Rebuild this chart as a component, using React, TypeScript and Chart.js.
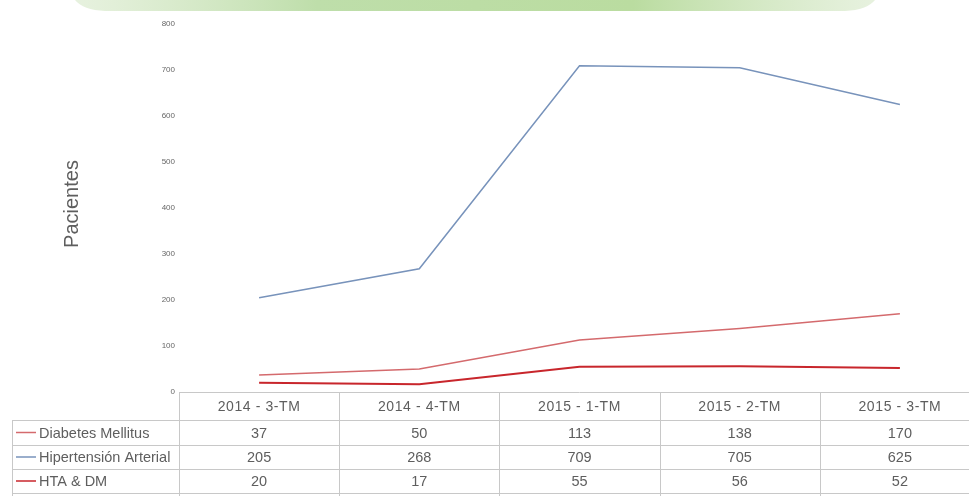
import React, { useEffect, useRef } from "react";
import { Chart, registerables } from "chart.js";

Chart.register(...registerables);

const categories = ["2014 - 3-TM", "2014 - 4-TM", "2015 - 1-TM", "2015 - 2-TM", "2015 - 3-TM"];
const diabetesMellitus = [37, 50, 113, 138, 170];
const hipertensionArterial = [205, 268, 709, 705, 625];
const htaDm = [20, 17, 55, 56, 52];
const seriesNames = ["Diabetes Mellitus", "Hipertensión Arterial", "HTA & DM"];
const seriesColors = ["#d46a6d", "#7893bb", "#c8262c"];
const yAxisTitle = "Pacientes";

const FONT = "'Liberation Sans', Arial, sans-serif";
const TEXT = "#5e5e5e";

const decorPlugin = {
  id: "decor",
  beforeDraw(chart: any) {
    const ctx = chart.ctx;
    ctx.save();
    ctx.fillStyle = "#ffffff";
    ctx.fillRect(0, 0, chart.width, chart.height);
    const g = ctx.createLinearGradient(80, 0, 870, 0);
    g.addColorStop(0, "rgba(214,232,200,0.6)");
    g.addColorStop(0.3, "rgba(190,222,170,1)");
    g.addColorStop(0.7, "rgba(186,220,160,1)");
    g.addColorStop(1, "rgba(214,232,200,0.6)");
    ctx.fillStyle = g;
    ctx.beginPath();
    ctx.moveTo(75, 0);
    ctx.lineTo(875, 0);
    ctx.quadraticCurveTo(867, 10, 845, 11);
    ctx.lineTo(105, 11);
    ctx.quadraticCurveTo(83, 10, 75, 0);
    ctx.closePath();
    ctx.fill();
    ctx.restore();
  },
  afterDraw(chart: any) {
    const ctx = chart.ctx;
    const area = chart.chartArea;
    const xs = chart.scales.x;
    const n = categories.length;
    const centers = categories.map((_, i) => xs.getPixelForValue(i));
    const half = (centers[1] - centers[0]) / 2;
    const top = area.bottom;
    const rowTops = [top, 420, 445, 469, 493];
    const leftEdge = 12;
    const right = chart.width;
    ctx.save();
    ctx.strokeStyle = "#c8c8c8";
    ctx.lineWidth = 1;
    ctx.beginPath();
    ctx.moveTo(area.left, Math.round(top) + 0.5);
    ctx.lineTo(right, Math.round(top) + 0.5);
    for (let r = 1; r < rowTops.length; r++) {
      ctx.moveTo(leftEdge, rowTops[r] + 0.5);
      ctx.lineTo(right, rowTops[r] + 0.5);
    }
    ctx.moveTo(leftEdge + 0.5, rowTops[1]);
    ctx.lineTo(leftEdge + 0.5, chart.height);
    for (let i = 0; i < n; i++) {
      const x = Math.round(centers[i] - half) + 0.5;
      ctx.moveTo(x, top);
      ctx.lineTo(x, chart.height);
    }
    ctx.stroke();

    ctx.fillStyle = TEXT;
    ctx.textAlign = "center";
    ctx.textBaseline = "middle";
    ctx.font = `14px ${FONT}`;
    (ctx as any).letterSpacing = "0.6px";
    categories.forEach((c, i) => {
      ctx.fillText(c, centers[i], (rowTops[0] + rowTops[1]) / 2 + 1);
    });
    (ctx as any).letterSpacing = "0px";

    chart.data.datasets.forEach((ds: any, r: number) => {
      const yMid = (rowTops[r + 1] + rowTops[r + 2]) / 2;
      ctx.strokeStyle = seriesColors[r];
      ctx.lineWidth = 1.5;
      ctx.beginPath();
      ctx.moveTo(16, yMid);
      ctx.lineTo(36, yMid);
      ctx.stroke();
      ctx.fillStyle = TEXT;
      ctx.textAlign = "left";
      ctx.font = `14.5px ${FONT}`;
      ctx.fillText(ds.label, 39, yMid + 1);
      ctx.textAlign = "center";
      ctx.font = `14.5px ${FONT}`;
      ds.data.forEach((v: number, i: number) => {
        ctx.fillText(String(v), centers[i], yMid + 1);
      });
    });

    ctx.save();
    ctx.translate(72, 204);
    ctx.rotate(-Math.PI / 2);
    ctx.fillStyle = TEXT;
    ctx.font = `20px ${FONT}`;
    ctx.textAlign = "center";
    ctx.textBaseline = "middle";
    ctx.fillText(yAxisTitle, 0, 0);
    ctx.restore();
    ctx.restore();
  },
};

export default function App() {
  const ref = useRef<HTMLCanvasElement | null>(null);
  useEffect(() => {
    if (!ref.current) return;
    const data = [diabetesMellitus, hipertensionArterial, htaDm];
    const chart = new Chart(ref.current, {
      type: "line",
      data: {
        labels: categories,
        datasets: seriesNames.map((name, i) => ({
          label: name,
          data: data[i],
          borderColor: seriesColors[i],
          backgroundColor: seriesColors[i],
          borderWidth: i === 2 ? 2 : 1.5,
          pointRadius: 0,
          tension: 0,
          fill: false,
        })),
      },
      options: {
        responsive: false,
        animation: false,
        devicePixelRatio: 1,
        layout: { padding: { top: 24, bottom: 496 - 392, left: 0, right: 0 } },
        plugins: { legend: { display: false }, tooltip: { enabled: false } },
        scales: {
          x: {
            type: "category",
            display: false,
            offset: true,
          },
          y: {
            min: 0,
            max: 800,
            border: { display: false },
            grid: { display: false, drawTicks: false },
            ticks: {
              stepSize: 100,
              padding: 4,
              color: "#666666",
              font: { size: 8, family: FONT },
            },
            afterFit(scale: any) {
              scale.width = 179;
            },
          },
        },
      },
      plugins: [decorPlugin],
    } as any);
    return () => chart.destroy();
  }, []);
  return (
    <div style={{ position: "fixed", left: 0, top: 0, width: 969, height: 496, overflow: "hidden", background: "#fff" }}>
      <canvas ref={ref} width={980} height={496} style={{ display: "block", width: 980, height: 496 }} />
    </div>
  );
}
